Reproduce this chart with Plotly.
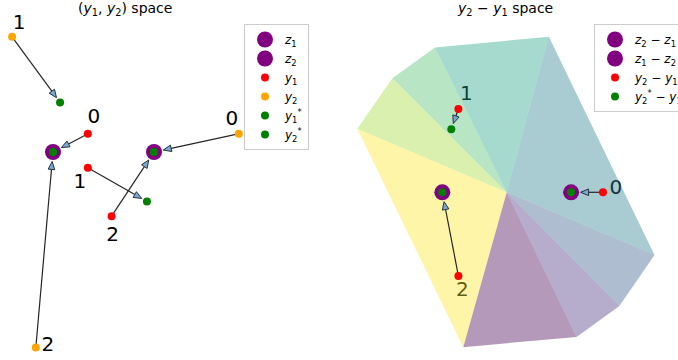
import numpy as np
import plotly.graph_objects as go
from plotly.colors import sample_colorscale

# points in (y1, y2) space, index 0..2
z1 = [-1.0, 0.0]
z2 = [1.0, 0.0]
y1 = np.array([[-0.31, 0.36], [-0.31, -0.31], [0.16, -1.27]])
y2 = np.array([[2.68, 0.36], [-1.81, 2.28], [-1.34, -3.87]])
y1_star = np.array([[-1.0, 0.0], [0.86, -0.98], [1.0, 0.0]])
y2_star = np.array([[1.0, 0.0], [-0.86, 0.98], [-1.0, 0.0]])
labels = ["0", "1", "2"]

# hull of the star shaped partition in y2 - y1 space
hull_x = [-1.35, 2.17, 3.50, 4.59, 1.31, -2.23, -3.55, -4.64]
hull_y = [-4.81, -4.49, -3.53, -1.95, 4.83, 4.50, 3.54, 1.97]

# difference space
d_y = y2 - y1
d_star = y2_star - y1_star
dz21 = np.subtract(z2, z1)
dz12 = np.subtract(z1, z2)

# pixel layout of the two panels (origin in px, px per unit)
W, H = 678, 360
L_ORG, L_S = (103.5, 152.0), 50.5
R_ORG, R_S = (506.7, 192.3), 32.2

# label offsets in px (dx, dy down)
off_y1 = [(6, -16), (-8, 15), (1, 20)]
off_y2 = [(-7, -14), (7, -13), (12, -1)]
off_d = [(13, -3), (8, -14), (4, 15)]

fig = go.Figure()


def rng(org, s, x0, x1):
    return [(x0 - org[0]) / s, (x1 - org[0]) / s], [(org[1] - H) / s, org[1] / s]


def text_trace(pts, offs, s, xa, ya):
    xs = [p[0] + o[0] / s for p, o in zip(pts, offs)]
    ys = [p[1] - o[1] / s for p, o in zip(pts, offs)]
    return go.Scatter(x=xs, y=ys, mode="text", text=labels, textposition="middle center",
                      textfont=dict(size=20, color="black", family="DejaVu Sans"),
                      showlegend=False, hoverinfo="skip", xaxis=xa, yaxis=ya)


def arrows(starts, ends, s, xa, ya, big):
    lx, ly, hx, hy = [], [], [], []
    for a, b in zip(starts, ends):
        a = np.array(a) * s
        b = np.array(b) * s
        d = b - a
        u = d / np.linalg.norm(d)
        n = np.array([-u[1], u[0]])
        shrink = 9.5 if any(np.allclose(b / s, q) for q in big) else 6.0
        p0 = a + u * 3
        tip = b - u * shrink
        base = tip - u * 8
        lx += [p0[0] / s, base[0] / s, None]
        ly += [p0[1] / s, base[1] / s, None]
        c1 = base + n * 3.3
        c2 = base - n * 3.3
        hx += [tip[0] / s, c1[0] / s, c2[0] / s, tip[0] / s, None]
        hy += [tip[1] / s, c1[1] / s, c2[1] / s, tip[1] / s, None]
    fig.add_trace(go.Scatter(x=lx, y=ly, mode="lines", line=dict(color="#262626", width=1.2),
                             showlegend=False, hoverinfo="skip", xaxis=xa, yaxis=ya))
    fig.add_trace(go.Scatter(x=hx, y=hy, mode="lines", fill="toself", fillcolor="#7aa8d0",
                             line=dict(color="#26323f", width=1),
                             showlegend=False, hoverinfo="skip", xaxis=xa, yaxis=ya))


def pts(name, arr, color, size, legend, xa, ya):
    arr = np.atleast_2d(arr)
    return go.Scatter(x=arr[:, 0], y=arr[:, 1], mode="markers", name=name,
                      marker=dict(color=color, size=size, line=dict(width=0)),
                      legend=legend, xaxis=xa, yaxis=ya)


# ---- left panel
arrows(y1, y1_star, L_S, "x", "y", [z1, z2])
arrows(y2, y2_star, L_S, "x", "y", [z1, z2])
fig.add_trace(pts("<i>z</i><sub>1</sub>", z1, "purple", 16, "legend", "x", "y"))
fig.add_trace(pts("<i>z</i><sub>2</sub>", z2, "purple", 16, "legend", "x", "y"))
fig.add_trace(pts("<i>y</i><sub>1</sub>", y1, "red", 8, "legend", "x", "y"))
fig.add_trace(pts("<i>y</i><sub>2</sub>", y2, "orange", 8, "legend", "x", "y"))
fig.add_trace(pts("<i>y</i><sub>1</sub><sup>*</sup>", y1_star, "green", 8, "legend", "x", "y"))
fig.add_trace(pts("<i>y</i><sub>2</sub><sup>*</sup>", y2_star, "green", 8, "legend", "x", "y"))
fig.add_trace(text_trace(y1, off_y1, L_S, "x", "y"))
fig.add_trace(text_trace(y2, off_y2, L_S, "x", "y"))

# ---- right panel (labels sit under the translucent partition)
fig.add_trace(text_trace(d_y, off_d, R_S, "x2", "y2"))
n = len(hull_x)
cols = sample_colorscale("Viridis", [i / (n - 1) for i in range(n)], colortype="tuple")
for i in range(n):
    j = (i + 1) % n
    r, g, b = [int(round(c * 255)) if c <= 1 else int(c) for c in cols[i]]
    fig.add_trace(go.Scatter(x=[0, hull_x[i], hull_x[j], 0], y=[0, hull_y[i], hull_y[j], 0],
                             mode="lines", fill="toself", fillcolor=f"rgba({r},{g},{b},0.4)",
                             line=dict(width=0), showlegend=False, hoverinfo="skip",
                             xaxis="x2", yaxis="y2"))
arrows(d_y, d_star, R_S, "x2", "y2", [dz21, dz12])
fig.add_trace(pts("<i>z</i><sub>2</sub> \u2212 <i>z</i><sub>1</sub>", dz21, "purple", 16, "legend2", "x2", "y2"))
fig.add_trace(pts("<i>z</i><sub>1</sub> \u2212 <i>z</i><sub>2</sub>", dz12, "purple", 16, "legend2", "x2", "y2"))
fig.add_trace(pts("<i>y</i><sub>2</sub> \u2212 <i>y</i><sub>1</sub>", d_y, "red", 8, "legend2", "x2", "y2"))
fig.add_trace(pts("<i>y</i><sub>2</sub><sup>*</sup> \u2212 <i>y</i><sub>1</sub><sup>*</sup>", d_star, "green", 8, "legend2", "x2", "y2"))

lxr, lyr = rng(L_ORG, L_S, 0, W / 2)
rxr, ryr = rng(R_ORG, R_S, W / 2, W)
ax = dict(visible=False, showgrid=False, zeroline=False, fixedrange=True)
leg = dict(yanchor="top", xanchor="left", y=1 - 24 / H, bgcolor="white", bordercolor="#cccccc",
           borderwidth=1, font=dict(size=12, family="DejaVu Sans", color="black"), tracegroupgap=0)
fig.update_layout(
    width=W, height=H, margin=dict(l=0, r=0, t=0, b=0, autoexpand=False),
    plot_bgcolor="white", paper_bgcolor="white",
    xaxis=dict(domain=[0, 0.5], range=lxr, **ax),
    yaxis=dict(domain=[0, 1], range=lyr, **ax),
    xaxis2=dict(domain=[0.5, 1], range=rxr, **ax),
    yaxis2=dict(domain=[0, 1], range=ryr, anchor="x2", **ax),
    legend=dict(x=244 / W, **leg),
    legend2=dict(x=594 / W, **leg),
    annotations=[
        dict(text="(<i>y</i><sub>1</sub>, <i>y</i><sub>2</sub>) space", x=125 / W, y=1 - 9 / H,
             xref="paper", yref="paper", xanchor="center", yanchor="middle", showarrow=False,
             font=dict(size=14, family="DejaVu Sans", color="black")),
        dict(text="<i>y</i><sub>2</sub> \u2212 <i>y</i><sub>1</sub> space", x=505 / W, y=1 - 9 / H,
             xref="paper", yref="paper", xanchor="center", yanchor="middle", showarrow=False,
             font=dict(size=14, family="DejaVu Sans", color="black")),
    ],
)
fig.write_html("out.html", config={"displayModeBar": False},
               post_script="document.body.style.margin='0';")
